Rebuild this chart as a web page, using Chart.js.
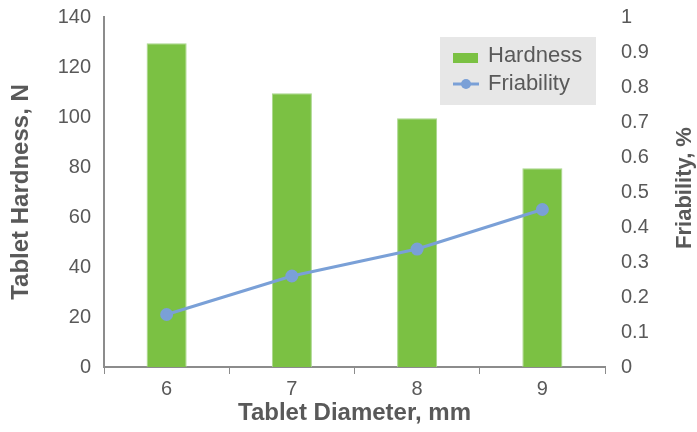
<!DOCTYPE html>
<html>
<head>
<meta charset="utf-8">
<script src="https://cdn.jsdelivr.net/npm/chart.js@4"></script>
<style>
  html, body { margin: 0; padding: 0; background: #fff; }
  #wrap { width: 697px; height: 432px; }
</style>
</head>
<body>
<div id="wrap"><canvas id="chart" width="697" height="432"></canvas></div>
<script>
// data
const diameters = ['6', '7', '8', '9'];
const hardness = [129.5, 109.5, 99.5, 79.5];
const friability = [0.15, 0.26, 0.337, 0.45];

const textColor = '#595959';
const axisColor = '#8c8c8c';
const fontFamily = '"Liberation Sans", Arial, sans-serif';

// legend box drawn inside the plot + right title read bottom-to-top
const extras = {
  id: 'extras',
  afterDraw(chart) {
    const ctx = chart.ctx;
    const bars = chart.data.datasets.find(d => d.type === 'bar');
    const line = chart.data.datasets.find(d => d.type === 'line');
    ctx.save();
    ctx.fillStyle = '#e7e7e7';
    ctx.fillRect(440, 37, 156, 68);
    ctx.font = '22px ' + fontFamily;
    ctx.textBaseline = 'middle';
    // bar entry
    ctx.fillStyle = bars.backgroundColor;
    ctx.fillRect(453, 53, 25, 10);
    ctx.fillStyle = textColor;
    ctx.fillText(bars.label, 488, 56);
    // line entry
    ctx.strokeStyle = line.borderColor;
    ctx.lineWidth = 3;
    ctx.beginPath();
    ctx.moveTo(453, 84);
    ctx.lineTo(479, 84);
    ctx.stroke();
    ctx.fillStyle = line.borderColor;
    ctx.beginPath();
    ctx.arc(466, 84, 5, 0, Math.PI * 2);
    ctx.fill();
    ctx.fillStyle = textColor;
    ctx.fillText(line.label, 488, 84);

    // right axis title
    ctx.translate(685, 188);
    ctx.rotate(-Math.PI / 2);
    ctx.font = 'bold 22px ' + fontFamily;
    ctx.textAlign = 'center';
    ctx.fillText('Friability, %', 0, 0);
    ctx.restore();
  }
};

new Chart(document.getElementById('chart'), {
  data: {
    labels: diameters,
    datasets: [
      {
        type: 'line',
        label: 'Friability',
        data: friability,
        yAxisID: 'y1',
        borderColor: '#7aa0d7',
        backgroundColor: '#7aa0d7',
        borderWidth: 3,
        pointRadius: 5,
        pointHoverRadius: 5,
        tension: 0,
        order: 0
      },
      {
        type: 'bar',
        label: 'Hardness',
        data: hardness,
        yAxisID: 'y',
        backgroundColor: '#7bc143',
        borderColor: '#a9d68c',
        borderWidth: 1,
        barPercentage: 0.32,
        categoryPercentage: 1,
        order: 1
      }
    ]
  },
  options: {
    responsive: false,
    animation: false,
    layout: { padding: { top: 17, left: 0, right: 0, bottom: 0 } },
    plugins: {
      legend: { display: false },
      tooltip: { enabled: false }
    },
    scales: {
      x: {
        offset: true,
        grid: {
          offset: true,
          drawOnChartArea: false,
          drawTicks: true,
          tickLength: 7,
          color: axisColor
        },
        border: { color: axisColor, width: 2 },
        ticks: { color: textColor, font: { family: fontFamily, size: 20 }, padding: 3 },
        title: {
          display: true,
          text: 'Tablet Diameter, mm',
          color: textColor,
          font: { family: fontFamily, size: 24, weight: 'bold' },
          padding: { top: 0, bottom: 4 }
        },
        afterFit(axis) { axis.height = 65; }
      },
      y: {
        position: 'left',
        min: 0,
        max: 140,
        ticks: { stepSize: 20, color: textColor, font: { family: fontFamily, size: 20 }, padding: 2 },
        // marks hidden, tickLength only used as label gap
        grid: { display: false, drawTicks: true, tickLength: 11 },
        border: { color: axisColor, width: 2 },
        title: {
          display: true,
          text: 'Tablet Hardness, N',
          color: textColor,
          font: { family: fontFamily, size: 24, weight: 'bold' },
          padding: { top: 7, bottom: 0 }
        },
        afterFit(axis) { axis.width = 104; }
      },
      y1: {
        position: 'right',
        min: 0,
        max: 1,
        ticks: {
          stepSize: 0.1,
          color: textColor,
          font: { family: fontFamily, size: 20 },
          padding: 2,
          callback: v => String(+v.toFixed(1))
        },
        grid: { display: false, drawTicks: true, tickLength: 14 },
        border: { display: false },
        title: { display: false },
        afterFit(axis) { axis.width = 92; }
      }
    }
  },
  plugins: [extras]
});
</script>
</body>
</html>
